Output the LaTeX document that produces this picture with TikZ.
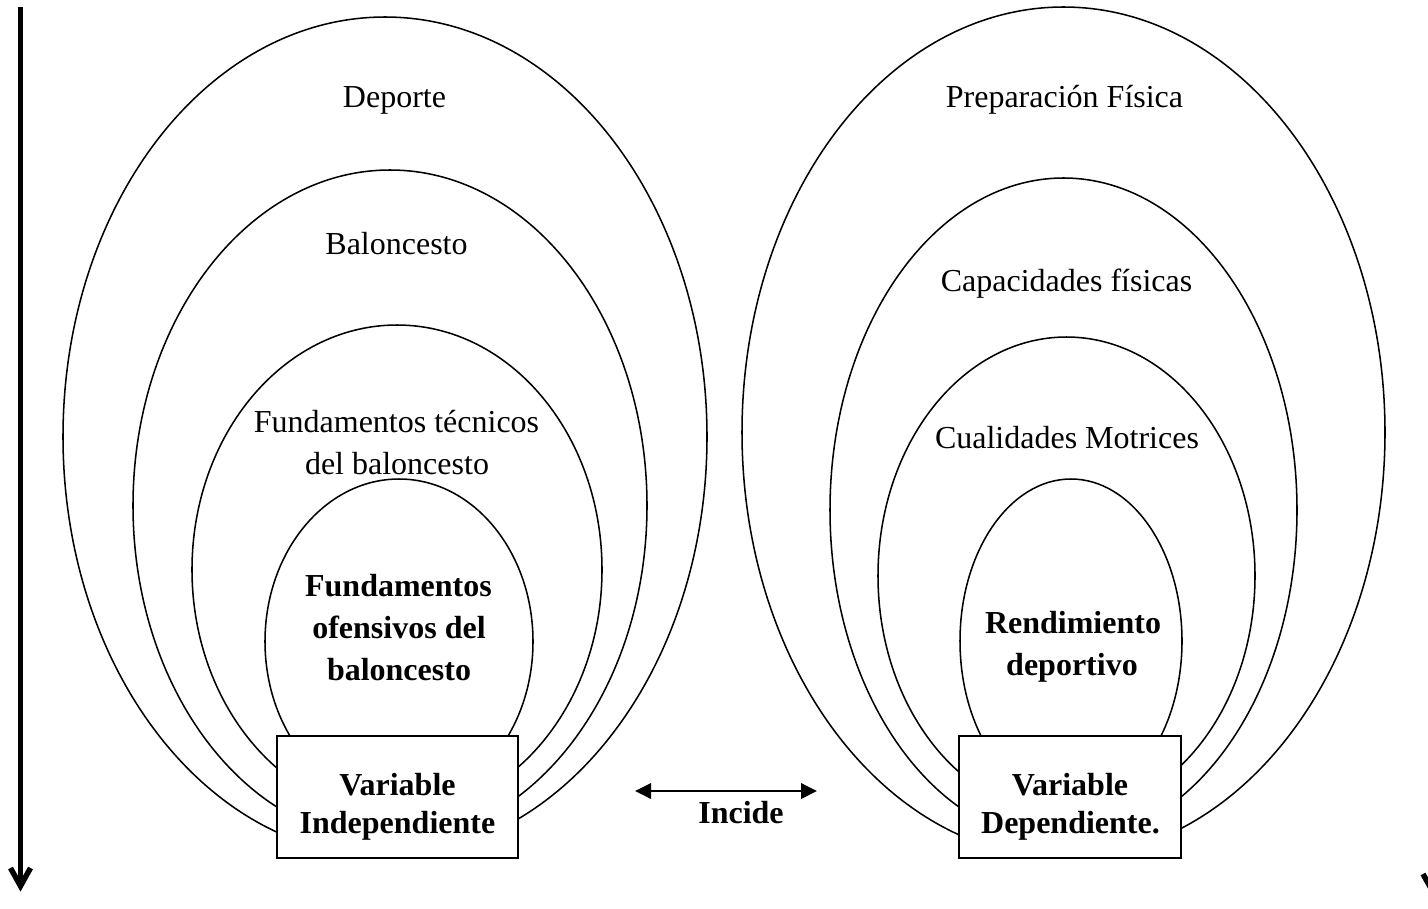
\documentclass[tikz,border=0pt]{standalone}
\usepackage{fontspec}
\setmainfont{Liberation Serif}
\usetikzlibrary{arrows.meta,calc}

\begin{document}
\begin{tikzpicture}[
  x=0.75pt, y=-0.75pt,
  ring/.style={draw, line width=1.15pt},
  lbl/.style={font=\fontsize{24}{28}\selectfont, anchor=base, inner sep=0pt},
  blbl/.style={lbl, font=\fontsize{24}{28}\selectfont\bfseries},
  varbox/.style={draw, fill=white, line width=1.5pt, inner sep=0pt,
                 minimum width=180.75pt, minimum height=91.5pt},
  vbox2/.style={varbox, minimum width=166.5pt},
  timeline/.style={line width=4.1pt},
  chevron/.style={line width=4.1pt, miter limit=10},
  link/.style={line width=1.9pt, {Triangle[length=12pt,width=11.5pt]}-{Triangle[length=12pt,width=11.5pt]}}
]
\path[use as bounding box] (0,0) rectangle (1428,908);
\clip (0,0) rectangle (1428,908);

% nested sets: independent variable
\draw[ring] (385,436.7) ellipse [x radius=322, y radius=419.7];
\draw[ring] (390,505.6) ellipse [x radius=257, y radius=335.6];
\draw[ring] (397,569.7) ellipse [x radius=205, y radius=244.7];
\draw[ring] (399,641.5) ellipse [x radius=134, y radius=162.5];

% nested sets: dependent variable
\draw[ring] (1063.5,432.4) ellipse [x radius=321.5, y radius=425.4];
\draw[ring] (1063.5,510) ellipse [x radius=233.5, y radius=332];
\draw[ring] (1066.5,575.8) ellipse [x radius=188.5, y radius=238.8];
\draw[ring] (1071,641) ellipse [x radius=111, y radius=162];

% variable boxes
\node[varbox] (vi) at (397.5,797) {};
\node[vbox2] (vd) at (1070,797) {};

% labels of the left sets
\node[lbl] (dep) at (394.5,107) {Deporte};
\node[lbl] (bal) at (396.5,254) {Baloncesto};
\node[lbl] (ft1) at (396.5,432) {Fundamentos técnicos};
\node[lbl] (ft2) at (397,474) {del baloncesto};
\node[blbl] (fo1) at (398.5,596) {Fundamentos};
\node[blbl] (fo2) at (399,638) {ofensivos del};
\node[blbl] (fo3) at (399,680) {baloncesto};

% labels of the right sets
\node[lbl] (pf) at (1064.5,107) {Preparación Física};
\node[lbl] (cf) at (1066.5,291) {Capacidades físicas};
\node[lbl] (cm) at (1067,448) {Cualidades Motrices};
\node[blbl] (rd1) at (1073,633) {Rendimiento};
\node[blbl] (rd2) at (1072,675) {deportivo};

% box texts
\node[blbl] (vi1) at (397.5,795) {Variable};
\node[blbl] (vi2) at (397.5,833) {Independiente};
\node[blbl] (vd1) at (1070,795) {Variable};
\node[blbl] (vd2) at (1070.5,833) {Dependiente.};

% relation between the two variables
\coordinate (la) at (635,791);
\coordinate (lb) at (817,791);
\draw[link] (la) -- (lb);
\node[blbl] (inc) at (741,823) {Incide};

% vertical arrows at the sides
\coordinate (ltop) at (20.5,7);
\coordinate (ltip) at (20.5,886);
\draw[timeline] (ltop) -- (ltip);
\draw[chevron] ($(ltip)+(-10,-18)$) -- (ltip) -- ($(ltip)+(10,-18)$);

\coordinate (rtop) at (1433,12);
\coordinate (rtip) at (1433,892);
\draw[timeline] (rtop) -- (rtip);
\draw[chevron] ($(rtip)+(-10,-18)$) -- (rtip) -- ($(rtip)+(10,-18)$);
\end{tikzpicture}
\end{document}
